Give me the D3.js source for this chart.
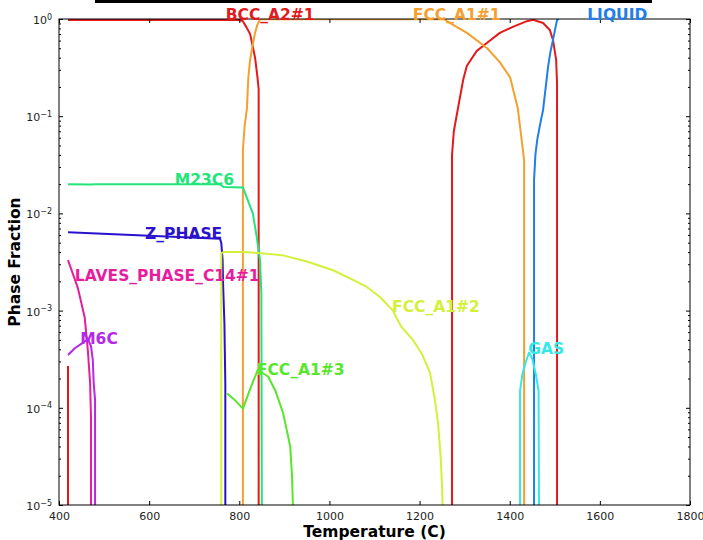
<!DOCTYPE html>
<html>
<head>
<meta charset="utf-8">
<script src="https://cdn.jsdelivr.net/npm/d3@7"></script>
<style>
  body { margin: 0; background: #fff; }
  svg { display: block; }
</style>
</head>
<body>
<svg id="chart" width="703" height="540"></svg>
<script>
// phase fraction curves, [temperature (C), fraction]
const bccA2_1 = [
  [[420, 1e-5], [420, 2.7e-4]],
  [[420, 0.975], [600, 0.975], [800, 0.975], [808, 0.95], [816, 0.82], [824, 0.7], [830, 0.52],
   [835, 0.4], [840, 0.26], [843, 0.19], [843, 1e-5]],
  [[1272, 1e-5], [1272, 0.04], [1276, 0.07], [1282, 0.1], [1290, 0.16], [1297, 0.24], [1305, 0.33],
   [1327, 0.47], [1350, 0.57], [1378, 0.72], [1407, 0.83], [1438, 0.95], [1452, 0.98], [1474, 0.91],
   [1489, 0.77], [1496, 0.61], [1503, 0.38], [1505, 0.22], [1505, 0.116], [1505, 1e-5]]
];
const fccA1_1 = [
  [[808, 1e-5], [808, 0.045], [812, 0.08], [817, 0.12], [820, 0.25], [824, 0.38], [830, 0.55],
   [835, 0.72], [840, 0.87], [846, 0.995], [1255, 0.995], [1261, 0.95], [1280, 0.84], [1305, 0.72],
   [1350, 0.5], [1378, 0.36], [1401, 0.25], [1418, 0.12], [1425, 0.065], [1430, 0.042], [1432, 0.035],
   [1432, 1e-5]]
];
const liquid = [
  [[1454, 1e-5], [1454, 0.022], [1457, 0.04], [1461, 0.057], [1468, 0.085], [1474, 0.116],
   [1480, 0.2], [1485, 0.32], [1490, 0.45], [1496, 0.61], [1505, 0.98], [1509, 1]]
];
const m23c6 = [
  [[420, 0.02], [470, 0.0198], [480, 0.02], [600, 0.02], [757, 0.02], [765, 0.0187], [808, 0.0185],
   [818, 0.014], [830, 0.01], [838, 0.006], [846, 0.0033], [849, 0.0015], [850, 1e-5]]
];
const zPhase = [
  [[420, 0.0064], [600, 0.0059], [757, 0.0055], [760, 0.005], [763, 0.0033], [764, 0.0019],
   [767, 7.4e-4], [769, 1.8e-4], [769, 1e-5]]
];
const lavesC14_1 = [
  [[420, 0.0033], [442, 0.0017], [457, 8.5e-4], [464, 3.9e-4], [469, 1.8e-4], [471, 8e-5], [471, 1e-5]]
];
const m6c = [
  [[420, 3.5e-4], [435, 4.1e-4], [451, 4.6e-4], [464, 5.1e-4], [471, 4.3e-4], [475, 3.1e-4],
   [477, 1.8e-4], [480, 1.2e-4], [480, 1e-5]]
];
const fccA1_2 = [
  [[760, 1e-5], [760, 0.0039], [765, 0.004], [808, 0.004], [850, 0.0039], [897, 0.0037], [950, 0.0032],
   [1008, 0.0026], [1050, 0.0021], [1083, 0.00175], [1112, 0.00138], [1141, 0.001], [1150, 8.2e-4],
   [1160, 6.8e-4], [1185, 5e-4], [1205, 3.6e-4], [1223, 2.3e-4], [1233, 1.3e-4], [1241, 7e-5],
   [1247, 3e-5], [1250, 1.5e-5], [1251, 1e-5]]
];
const fccA1_3 = [
  [[773, 1.4e-4], [790, 1.2e-4], [808, 9.8e-5], [825, 1.6e-4], [841, 2.45e-4], [864, 2.1e-4],
   [880, 1.5e-4], [897, 8.9e-5], [905, 6e-5], [913, 4e-5], [917, 2e-5], [919, 1e-5]]
];
const gas = [
  [[1423, 1e-5], [1423, 1.5e-4], [1428, 2.2e-4], [1436, 3e-4], [1443, 3.7e-4], [1450, 3.2e-4],
   [1458, 2.2e-4], [1464, 1.5e-4], [1465, 1e-5]]
];

// label anchors [temperature, fraction at baseline]
const phaseNames = ["BCC_A2#1", "FCC_A1#1", "LIQUID", "M23C6", "Z_PHASE", "LAVES_PHASE_C14#1",
                    "M6C", "FCC_A1#2", "FCC_A1#3", "GAS"];
const labelAt = [[770, 0.98], [1185, 0.98], [1572, 0.98], [657, 0.0198], [591, 0.0055],
                 [435, 0.002], [447, 4.5e-4], [1139, 9.6e-4], [839, 2.15e-4], [1441, 3.6e-4]];
const xTicks = [400, 600, 800, 1000, 1200, 1400, 1600, 1800];
const yExps = [0, -1, -2, -3, -4, -5];

const phases = [
  {curves: bccA2_1, color: "#e31a1c"},
  {curves: fccA1_1, color: "#f5a02e"},
  {curves: liquid, color: "#1f7ee8"},
  {curves: m23c6, color: "#22e57a"},
  {curves: zPhase, color: "#2a12cc"},
  {curves: lavesC14_1, color: "#e61e9e"},
  {curves: m6c, color: "#b428e8"},
  {curves: fccA1_2, color: "#d4f03a"},
  {curves: fccA1_3, color: "#58e62a"},
  {curves: gas, color: "#34e8e8"}
];

const margin = {top: 19, right: 13, bottom: 35, left: 59};
const svg = d3.select("#chart");
const width = +svg.attr("width") - margin.left - margin.right;
const height = +svg.attr("height") - margin.top - margin.bottom;

const x = d3.scaleLinear().domain([400, 1800]).range([0, width]);
const y = d3.scaleLog().domain([1e-5, 1]).range([height, 0]);

// cut-off title bar at the very top
svg.append("rect")
  .attr("x", 95).attr("y", 0)
  .attr("width", 557).attr("height", 3)
  .attr("fill", "#000");

const g = svg.append("g")
  .attr("transform", "translate(" + margin.left + "," + margin.top + ")");

svg.append("defs").append("clipPath").attr("id", "plotClip")
  .append("rect").attr("width", width).attr("height", height);

let line = d3.line()
  .x(d => x(d[0]))
  .y(d => y(d[1]));

let plot = g.append("g").attr("clip-path", "url(#plotClip)");
phases.forEach(p => {
  plot.selectAll(null)
    .data(p.curves)
    .enter().append("path")
    .attr("d", line)
    .attr("fill", "none")
    .attr("stroke", p.color)
    .attr("stroke-width", 2)
    .attr("stroke-linejoin", "round");
});

// axes, ticks pointing inwards
let xAxis = d3.axisBottom(x).tickValues(xTicks).tickFormat(d3.format("d"))
  .tickSizeInner(-4).tickSizeOuter(0).tickPadding(7);
g.append("g")
  .attr("transform", "translate(0," + height + ")")
  .call(xAxis)
  .call(a => a.select(".domain").remove())
  .call(a => a.selectAll("text").attr("font-family", "DejaVu Sans").attr("font-size", 11).attr("fill", "#222"));

g.append("g")
  .call(d3.axisTop(x).tickValues(xTicks).tickSizeInner(-4).tickSizeOuter(0).tickFormat(""))
  .call(a => a.select(".domain").remove());

let yMajor = yExps.map(e => Math.pow(10, e));
let yMinor = [];
for (let e = -5; e < 0; e++) {
  for (let m = 2; m <= 9; m++) yMinor.push(m * Math.pow(10, e));
}

let yAxis = d3.axisLeft(y).tickValues(yMajor).tickSizeInner(-4).tickSizeOuter(0).tickPadding(7).tickFormat("");
let yg = g.append("g").call(yAxis);
yg.select(".domain").remove();
yg.selectAll(".tick text")
  .attr("font-family", "DejaVu Sans").attr("font-size", 11).attr("fill", "#222")
  .attr("dy", "0.4em")
  .each(function(d) {
    let t = d3.select(this);
    t.append("tspan").text("10");
    t.append("tspan").attr("dy", "-0.55em").attr("font-size", 8)
      .text(Math.round(Math.log10(d)) === 0 ? "0" : "\u2212" + (-Math.round(Math.log10(d))));
  });

g.append("g")
  .attr("transform", "translate(" + width + ",0)")
  .call(d3.axisRight(y).tickValues(yMajor).tickSizeInner(-4).tickSizeOuter(0).tickFormat(""))
  .call(a => a.select(".domain").remove());

g.append("g")
  .call(d3.axisLeft(y).tickValues(yMinor).tickSizeInner(-2).tickSizeOuter(0).tickFormat(""))
  .call(a => a.select(".domain").remove());
g.append("g")
  .attr("transform", "translate(" + width + ",0)")
  .call(d3.axisRight(y).tickValues(yMinor).tickSizeInner(-2).tickSizeOuter(0).tickFormat(""))
  .call(a => a.select(".domain").remove());

g.append("rect")
  .attr("width", width).attr("height", height)
  .attr("fill", "none").attr("stroke", "#000").attr("stroke-width", 1);

// phase labels
g.selectAll(".phase-label")
  .data(phaseNames)
  .enter().append("text")
  .attr("class", "phase-label")
  .attr("x", (d, i) => x(labelAt[i][0]))
  .attr("y", (d, i) => y(labelAt[i][1]))
  .attr("font-family", "DejaVu Sans")
  .attr("font-weight", "bold")
  .attr("font-size", 15.5)
  .attr("fill", (d, i) => phases[i].color)
  .text(d => d);

// axis titles
svg.append("text")
  .attr("x", margin.left + width / 2)
  .attr("y", 537)
  .attr("text-anchor", "middle")
  .attr("font-family", "DejaVu Sans")
  .attr("font-weight", "bold")
  .attr("font-size", 15.5)
  .text("Temperature (C)");

svg.append("text")
  .attr("transform", "translate(20," + (margin.top + height / 2) + ") rotate(-90)")
  .attr("text-anchor", "middle")
  .attr("font-family", "DejaVu Sans")
  .attr("font-weight", "bold")
  .attr("font-size", 15.5)
  .text("Phase Fraction");
</script>
</body>
</html>
